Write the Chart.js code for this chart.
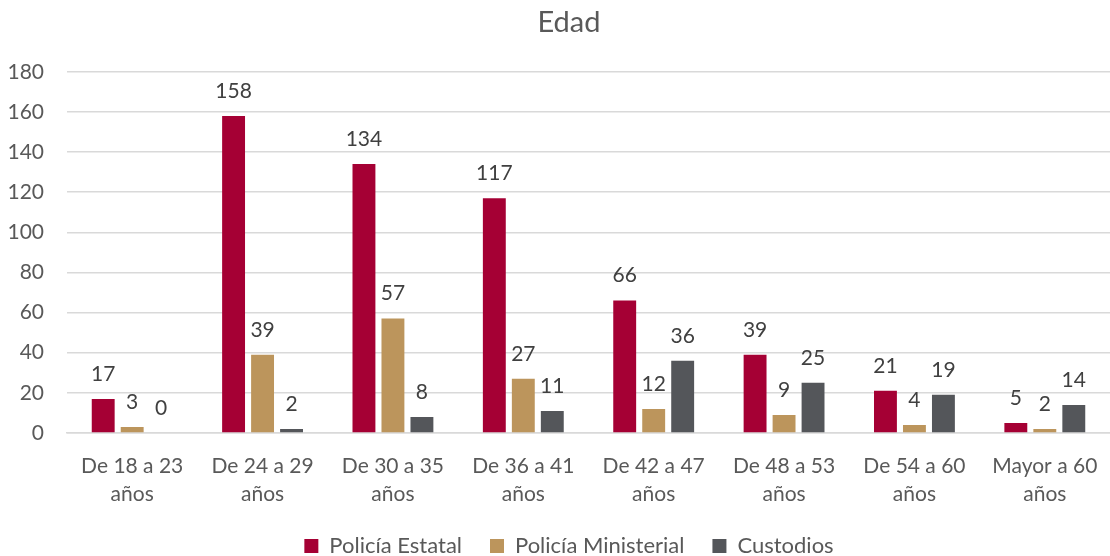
<!DOCTYPE html>
<html>
<head>
<meta charset="utf-8">
<script src="https://cdn.jsdelivr.net/npm/chart.js@4"></script>
<style>
  html, body { margin: 0; padding: 0; background: #fff; }
  #wrap { width: 1110px; height: 556px; position: relative; }
</style>
</head>
<body>
<div id="wrap"><canvas id="edadChart"></canvas></div>
<script>
/* Edad — bar chart */

const categories = [
  ['De 18 a 23', 'años'], ['De 24 a 29', 'años'], ['De 30 a 35', 'años'], ['De 36 a 41', 'años'],
  ['De 42 a 47', 'años'], ['De 48 a 53', 'años'], ['De 54 a 60', 'años'], ['Mayor a 60', 'años']
];
const policiaEstatal = [17, 158, 134, 117, 66, 39, 21, 5];
const policiaMinisterial = [3, 39, 57, 27, 12, 9, 4, 2];
const custodios = [0, 2, 8, 11, 36, 25, 19, 14];
const yTicks = [0, 20, 40, 60, 80, 100, 120, 140, 160, 180];

const FONT = 'Lato, "Open Sans", sans-serif';
const TEXT = '#595959';

// value labels above each bar
const barLabels = {
  id: 'barLabels',
  afterLayout(chart) {
    // let the y tick labels use the left margin too (labels are clipped to the axis box)
    chart.scales.y.left = 0;
  },
  afterDatasetsDraw(chart) {
    const { ctx } = chart;
    ctx.save();
    ctx.font = '21px ' + FONT;
    ctx.fillStyle = '#404040';
    ctx.textAlign = 'center';
    ctx.textBaseline = 'middle';
    chart.data.datasets.forEach((ds, i) => {
      chart.getDatasetMeta(i).data.forEach((bar, j) => {
        ctx.fillText(ds.data[j], bar.x, bar.y - 25);
      });
    });
    ctx.restore();
  }
};

new Chart(document.getElementById('edadChart').getContext('2d'), {
  type: 'bar',
  data: {
    labels: categories,
    datasets: [
      { label: 'Policía Estatal', data: policiaEstatal, backgroundColor: '#A50034' },
      { label: 'Policía Ministerial', data: policiaMinisterial, backgroundColor: '#BC955C' },
      { label: 'Custodios', data: custodios, backgroundColor: '#54565A' }
    ]
  },
  options: {
    responsive: true,
    maintainAspectRatio: false,
    animation: false,
    layout: { padding: { left: 28, right: 0, top: 0, bottom: -11 } },
    datasets: { bar: { categoryPercentage: 0.667, barPercentage: 0.79 } },
    plugins: {
      title: {
        display: true, text: 'Edad', color: TEXT,
        font: { family: FONT, size: 29, weight: 'normal' },
        padding: { top: 5, bottom: 32 }
      },
      legend: {
        position: 'bottom',
        labels: {
          color: TEXT, font: { family: FONT, size: 22 },
          boxWidth: 14, boxHeight: 14, padding: 28
        }
      },
      tooltip: { enabled: false }
    },
    scales: {
      x: {
        grid: { display: false },
        border: { color: '#d9d9d9', width: 1.5 },
        afterFit: axis => { axis.height = 74; },
        ticks: { color: TEXT, font: { family: FONT, size: 21, lineHeight: 1.33 }, maxRotation: 0, autoSkip: false, padding: 11 }
      },
      y: {
        min: 0, max: 180,
        afterBuildTicks: axis => { axis.ticks = yTicks.map(v => ({ value: v })); },
        afterFit: axis => { axis.width = 39; },
        grid: { color: '#d9d9d9', lineWidth: 1.5, drawTicks: false },
        border: { display: false },
        ticks: { color: TEXT, font: { family: FONT, size: 21 }, padding: 23 }
      }
    }
  },
  plugins: [barLabels]
});
</script>
</body>
</html>
